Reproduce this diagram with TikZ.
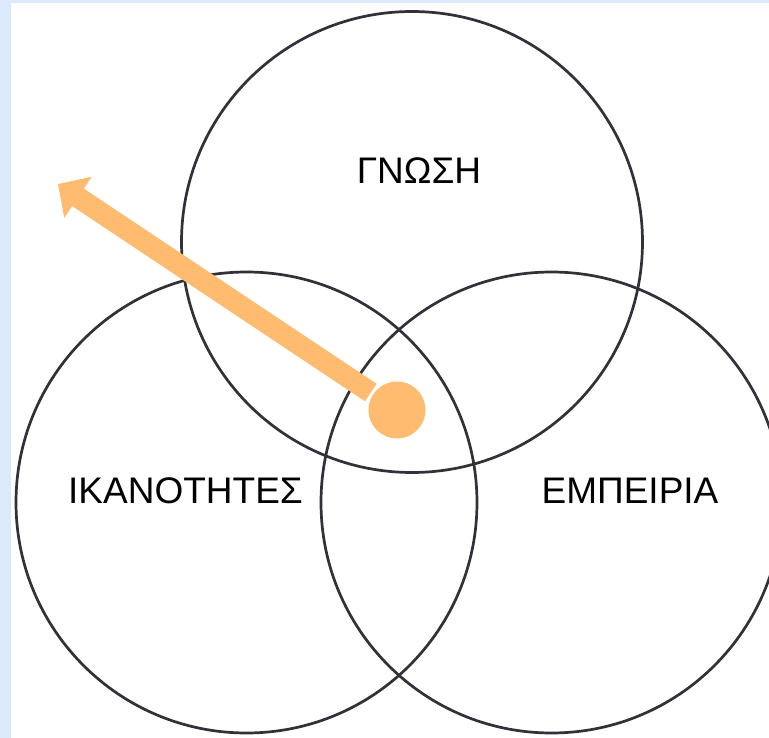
\documentclass[tikz,border=0pt]{standalone}
\usepackage{fontspec}
\setmainfont{Liberation Sans}
\usetikzlibrary{arrows.meta}
\definecolor{bgblue}{RGB}{220,233,250}
\definecolor{ringcol}{RGB}{50,48,56}
\definecolor{dotorange}{RGB}{255,187,112}
\begin{document}
\begin{tikzpicture}[x=1pt,y=-1pt,
  ring/.style={circle,draw=ringcol,line width=2.7pt,minimum size=461pt,inner sep=0pt},
  lab/.style={font=\fontsize{37}{44}\selectfont,inner sep=0pt},
  dotstyle/.style={circle,fill=dotorange,minimum size=57pt,inner sep=0pt,outer sep=3pt},
  arrowstyle/.style={draw=dotorange,line width=21pt,-{Triangle[length=24pt,width=48pt]}}]
\useasboundingbox (0,0) rectangle (769,738);
\clip (0,0) rectangle (769,738);
\fill[bgblue] (0,0) rectangle (769,738);
\fill[white] (11,3) rectangle (769,738);
\node[ring] (gnosi) at (412,242) {};
\node[ring] (ikan) at (246.5,502.5) {};
\node[ring] (emp) at (551.5,502.5) {};
\node[lab] (tg) at (419,171) {ΓΝΩΣΗ};
\node[lab] (ti) at (185.5,491) {ΙΚΑΝΟΤΗΤΕΣ};
\node[lab] (te) at (630,491) {ΕΜΠΕΙΡΙΑ};
\node[dotstyle] (dot) at (397,410) {};
\coordinate (tip) at (58,184);
\draw[arrowstyle] (dot) -- (tip);
\end{tikzpicture}
\end{document}
